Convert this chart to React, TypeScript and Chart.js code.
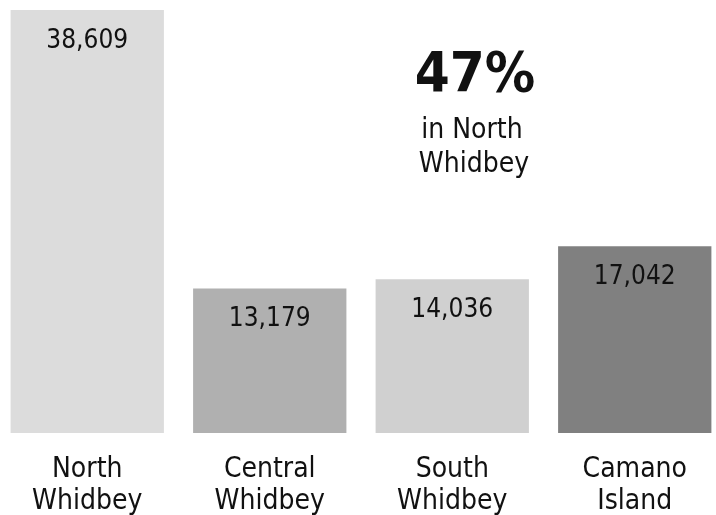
import React, { useEffect, useRef } from "react";
import { Chart, registerables } from "chart.js";

Chart.register(...registerables);

const categories: string[][] = [
  ["North", "Whidbey"],
  ["Central", "Whidbey"],
  ["South", "Whidbey"],
  ["Camano", "Island"],
];
const values: number[] = [38609, 13179, 14036, 17042];
const barColors: string[] = ["#dcdcdc", "#b0b0b0", "#d0d0d0", "#808080"];
const headline = "47%";
const headlineSub: string[] = ["in North", "Whidbey"];

const FONT = '"DejaVu Sans Condensed", "DejaVu Sans", sans-serif';

const labelPlugin = {
  id: "labels",
  afterDatasetsDraw(chart: any) {
    const ctx = chart.ctx;
    const meta = chart.getDatasetMeta(0);
    const xs = chart.scales.x;
    ctx.save();
    ctx.fillStyle = "#111";
    ctx.textAlign = "center";
    ctx.textBaseline = "middle";
    meta.data.forEach((bar: any, i: number) => {
      ctx.font = `26px ${FONT}`;
      ctx.fillText(values[i].toLocaleString("en-US"), bar.x, bar.y + 31);
      const cx = xs.getPixelForValue(i);
      const lines = categories[i];
      ctx.font = `28px ${FONT}`;
      ctx.fillText(lines[0], cx, 470);
      ctx.fillText(lines[1], cx, 502);
    });
    // headline annotation
    ctx.font = `bold 56px ${FONT}`;
    ctx.fillText(headline, 479, 76);
    ctx.font = `28px ${FONT}`;
    ctx.fillText(headlineSub[0], 476, 131);
    ctx.fillText(headlineSub[1], 478, 165);
    ctx.restore();
  },
};

export default function App() {
  const ref = useRef<HTMLCanvasElement | null>(null);
  useEffect(() => {
    if (!ref.current) return;
    const chart = new Chart(ref.current, {
      type: "bar",
      data: {
        labels: categories.map((c) => c.join(" ")),
        datasets: [
          {
            data: values,
            backgroundColor: barColors,
            borderWidth: 0,
            barPercentage: 0.84,
            categoryPercentage: 1,
          },
        ],
      },
      options: {
        responsive: false,
        animation: false,
        layout: { padding: { top: 10, bottom: 82, left: 0, right: 0 } },
        plugins: { legend: { display: false }, tooltip: { enabled: false } },
        scales: {
          x: { display: false },
          y: { display: false, min: 0, max: 38609 },
        },
      },
      plugins: [labelPlugin],
    });
    return () => chart.destroy();
  }, []);
  return (
    <div
      style={{
        position: "absolute",
        left: 0,
        top: 0,
        width: 716,
        height: 515,
        overflow: "hidden",
        background: "#fff",
      }}
    >
      <canvas
        ref={ref}
        width={730}
        height={515}
        style={{ position: "absolute", left: -4, top: 0, width: 730, height: 515 }}
      />
    </div>
  );
}
